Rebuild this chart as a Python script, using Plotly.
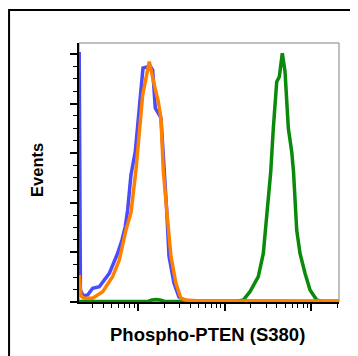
import plotly.graph_objects as go

# Data (x: fluorescence intensity, log scale; y: events)
blue_x = [2.10, 2.17, 2.34, 2.63, 3.00, 3.58, 4.67, 5.83, 6.54, 7.14, 7.60, 8.30, 9.31,
          10.35, 10.83, 11.42, 12.70, 13.75, 14.78, 15.83, 18.41, 20.47, 21.43, 22.78,
          26.0, 29.7, 33.9, 39.8, 2080]
blue_y = [100.8, 4.84, 2.42, 2.82, 5.52, 6.17, 11.57, 19.64, 25.0, 30.4, 37.1, 51.2, 60.6,
          76.7, 83.5, 94.3, 94.8, 95.2, 93.5, 78.2, 74.2, 51.2, 37.1, 18.5,
          7.66, 2.02, 0.81, 0.40, 0.2]

orange_x = [2.10, 2.20, 2.40, 3.00, 3.92, 5.11, 6.09, 7.27, 8.30, 9.48, 11.33, 13.50,
            15.42, 17.01, 18.41, 19.58, 21.43, 24.03, 27.4, 31.3, 35.8, 51.9, 2080]
orange_y = [10.9, 2.42, 1.49, 1.49, 4.15, 10.28, 16.9, 29.0, 35.9, 53.2, 83.5, 96.9,
            87.5, 81.4, 74.2, 53.2, 37.1, 18.3, 7.54, 1.49, 0.81, 0.4, 0.4]

green_x = [2.08, 13.04, 14.5, 16.13, 17.93, 20.47, 135, 163.9, 195.8, 244.1, 278.7, 305,
           339.4, 363.6, 398, 426.4, 461.7, 496.2, 541.6, 592.7, 621.7, 676.7, 738.8,
           843.7, 963.6, 1151, 1325, 2080]
green_y = [0.2, 0.2, 0.81, 1.0, 0.81, 0.2, 0.2, 0.81, 4.15, 10.2, 19.6, 33.1,
           52.4, 70.0, 88.8, 90.8, 100.3, 92.9, 70.0, 60.6, 52.4, 29.0, 19.6,
           11.6, 4.84, 0.81, 0.2, 0.2]

x_major = [10, 100, 1000]
x_minor = [m * d for d in (1, 10, 100, 1000) for m in range(2, 10)]
y_major = [0, 20, 40, 60, 80, 100]

x_title = "Phospho-PTEN (S380)"
y_title = "Events"

fig = go.Figure()
fig.add_trace(go.Scatter(x=blue_x, y=blue_y, mode="lines",
                         line=dict(color="#4a4aff", width=3.5), showlegend=False))
fig.add_trace(go.Scatter(x=green_x, y=green_y, mode="lines",
                         line=dict(color="#0a8a0a", width=3.5), showlegend=False))
fig.add_trace(go.Scatter(x=orange_x, y=orange_y, mode="lines",
                         line=dict(color="#ff8000", width=3.5), showlegend=False))

fig.update_layout(
    width=358, height=356,
    margin=dict(l=71, r=27, t=35, b=62),
    paper_bgcolor="white", plot_bgcolor="white",
    font=dict(family="Liberation Sans, Arial, sans-serif", color="black"),
    xaxis=dict(type="log", range=[0.32, 3.318], showgrid=False, zeroline=False,
               showline=True, linecolor="black", linewidth=2,
               tickmode="array", tickvals=x_major, ticks="outside", ticklen=7,
               tickwidth=1.5, tickcolor="black", showticklabels=False,
               minor=dict(tickmode="array", tickvals=x_minor, ticks="outside",
                          ticklen=4, tickwidth=1, tickcolor="black")),
    yaxis=dict(range=[0, 104.4], showgrid=False, zeroline=False,
               showline=True, linecolor="black", linewidth=2,
               tickmode="array", tickvals=y_major, ticks="outside", ticklen=7,
               tickwidth=1.5, tickcolor="black", showticklabels=False,
               minor=dict(dtick=5, ticks="outside", ticklen=4, tickwidth=1,
                          tickcolor="black")),
    shapes=[
        dict(type="rect", xref="paper", yref="paper", x0=0, x1=1, y0=0, y1=1,
             line=dict(color="#808080", width=1), layer="below"),
        dict(type="rect", xref="paper", yref="paper", x0=-0.269, x1=2, y0=-2, y1=1.127,
             line=dict(color="black", width=2), layer="below"),
    ],
    annotations=[
        dict(text="<b>" + x_title + "</b>", xref="paper", yref="paper",
             x=0.494, y=-0.124, xanchor="center", yanchor="middle",
             showarrow=False, font=dict(size=18.5)),
        dict(text="<b>" + y_title + "</b>", xref="paper", yref="paper",
             x=-0.1596, y=0.508, xanchor="center", yanchor="middle",
             textangle=-90, showarrow=False, font=dict(size=16.5)),
    ],
)

fig.write_html("out.html")
